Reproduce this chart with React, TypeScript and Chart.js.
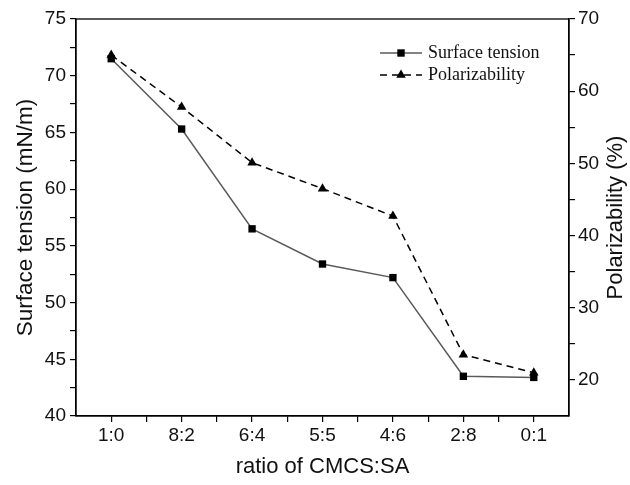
import React, { useEffect, useRef } from "react";
import { Chart, registerables } from "chart.js";

Chart.register(...registerables);

const categories = ["1:0", "8:2", "6:4", "5:5", "4:6", "2:8", "0:1"];
const surfaceTension = [71.5, 65.3, 56.5, 53.4, 52.2, 43.5, 43.4];
const polarizability = [65.0, 57.8, 50.1, 46.5, 42.7, 23.5, 21.0];
const leftTitle = "Surface tension (mN/m)";
const rightTitle = "Polarizability (%)";
const xTitle = "ratio of CMCS:SA";
const seriesNames = ["Surface tension", "Polarizability"];

const SANS = "'Liberation Sans', Arial, sans-serif";
const SERIF = "'Liberation Serif', 'Times New Roman', serif";

const framePlugin = {
  id: "frameAndExtras",
  afterDraw(chart: any) {
    const { ctx, chartArea } = chart;
    const { left, right, top, bottom } = chartArea;
    ctx.save();
    ctx.strokeStyle = "#000";
    ctx.lineWidth = 1.3;
    ctx.strokeRect(left, top, right - left, bottom - top);

    ctx.fillStyle = "#111";
    ctx.font = `22px ${SANS}`;
    ctx.textAlign = "center";
    ctx.textBaseline = "middle";
    ctx.translate(616, (top + bottom) / 2);
    ctx.rotate(-Math.PI / 2);
    ctx.fillText(rightTitle, 0, 0);
    ctx.restore();

    ctx.save();
    const rows = [
      { y: 53, ds: chart.data.datasets[0] },
      { y: 75, ds: chart.data.datasets[1] },
    ];
    const x0 = 380;
    const x1 = 422;
    const xm = (x0 + x1) / 2;
    rows.forEach((r, i) => {
      ctx.beginPath();
      ctx.strokeStyle = r.ds.borderColor;
      ctx.lineWidth = r.ds.borderWidth;
      ctx.setLineDash(r.ds.borderDash || []);
      ctx.moveTo(x0, r.y);
      ctx.lineTo(x1, r.y);
      ctx.stroke();
      ctx.setLineDash([]);
      ctx.fillStyle = "#000";
      ctx.beginPath();
      if (i === 0) {
        ctx.rect(xm - 3.7, r.y - 3.7, 7.4, 7.4);
      } else {
        const rr = 5.5;
        ctx.moveTo(xm, r.y - rr);
        ctx.lineTo(xm + rr * 0.866, r.y + rr * 0.5);
        ctx.lineTo(xm - rr * 0.866, r.y + rr * 0.5);
        ctx.closePath();
      }
      ctx.fill();
      ctx.fillStyle = "#111";
      ctx.font = `18px ${SERIF}`;
      ctx.textAlign = "left";
      ctx.textBaseline = "middle";
      ctx.fillText(seriesNames[i], 428, r.y);
    });
    ctx.restore();
  },
};

export default function App() {
  const ref = useRef<HTMLCanvasElement | null>(null);

  useEffect(() => {
    if (!ref.current) return;
    const chart = new Chart(ref.current, {
      type: "line",
      data: {
        datasets: [
          {
            label: seriesNames[0],
            data: surfaceTension.map((v, i) => ({ x: i, y: v })),
            yAxisID: "y",
            borderColor: "#5a5a5a",
            borderWidth: 1.5,
            pointStyle: "rect",
            pointRadius: 5.2,
            pointBackgroundColor: "#000",
            pointBorderColor: "#000",
            pointBorderWidth: 0,
            tension: 0,
          },
          {
            label: seriesNames[1],
            data: polarizability.map((v, i) => ({ x: i, y: v })),
            yAxisID: "y1",
            borderColor: "#000",
            borderWidth: 1.5,
            borderDash: [7, 5],
            pointStyle: "triangle",
            pointRadius: 5.5,
            pointBackgroundColor: "#000",
            pointBorderColor: "#000",
            pointBorderWidth: 0,
            tension: 0,
          },
        ],
      },
      options: {
        responsive: false,
        animation: false,
        layout: { padding: { top: 19, left: 0, right: 0, bottom: 0 } },
        plugins: {
          legend: { display: false },
          tooltip: { enabled: false },
        },
        scales: {
          x: {
            type: "linear",
            min: -0.5,
            max: 6.5,
            afterFit: (s: any) => {
              s.height = 69;
            },
            ticks: {
              stepSize: 0.5,
              autoSkip: false,
              maxRotation: 0,
              padding: 2,
              color: "#111",
              font: { family: SANS, size: 19 },
              callback: (v: any) => {
                const n = Number(v);
                return Number.isInteger(n) && n >= 0 && n < categories.length
                  ? categories[n]
                  : "";
              },
            },
            grid: {
              drawOnChartArea: false,
              drawTicks: true,
              tickLength: 6,
              lineWidth: 1.2,
              color: (c: any) =>
                c.tick && (c.tick.value <= -0.5 || c.tick.value >= 6.5)
                  ? "rgba(0,0,0,0)"
                  : "#000",
            },
            border: { display: true, color: "#000", width: 1.3 },
            title: {
              display: true,
              text: xTitle,
              color: "#111",
              font: { family: SANS, size: 22 },
              padding: { top: 0, bottom: 5 },
            },
          },
          y: {
            type: "linear",
            position: "left",
            min: 40,
            max: 75,
            afterFit: (s: any) => {
              s.width = 76;
            },
            ticks: {
              stepSize: 2.5,
              autoSkip: false,
              padding: 4,
              color: "#111",
              font: { family: SANS, size: 19 },
              callback: (v: any) => (Number(v) % 5 === 0 ? String(v) : ""),
            },
            grid: {
              drawOnChartArea: false,
              drawTicks: true,
              tickLength: 6,
              lineWidth: 1.2,
              color: "#000",
            },
            border: { display: true, color: "#000", width: 1.3 },
            title: {
              display: true,
              text: leftTitle,
              color: "#111",
              font: { family: SANS, size: 22.5 },
              padding: { top: 12, bottom: 0 },
            },
          },
          y1: {
            type: "linear",
            position: "right",
            min: 15,
            max: 70,
            afterFit: (s: any) => {
              s.width = 61;
            },
            ticks: {
              stepSize: 5,
              autoSkip: false,
              padding: 3,
              color: "#111",
              font: { family: SANS, size: 19 },
              callback: (v: any) => (Number(v) % 10 === 0 ? String(v) : ""),
            },
            grid: {
              drawOnChartArea: false,
              drawTicks: true,
              tickLength: 6,
              lineWidth: 1.2,
              color: (c: any) =>
                c.tick && c.tick.value <= 15 ? "rgba(0,0,0,0)" : "#000",
            },
            border: { display: true, color: "#000", width: 1.3 },
            title: { display: false },
          },
        },
      },
      plugins: [framePlugin],
    });
    return () => chart.destroy();
  }, []);

  return (
    <div style={{ position: "absolute", left: 0, top: 0, width: 630, height: 485, background: "#fff" }}>
      <canvas ref={ref} width={630} height={485} style={{ display: "block" }} />
    </div>
  );
}
